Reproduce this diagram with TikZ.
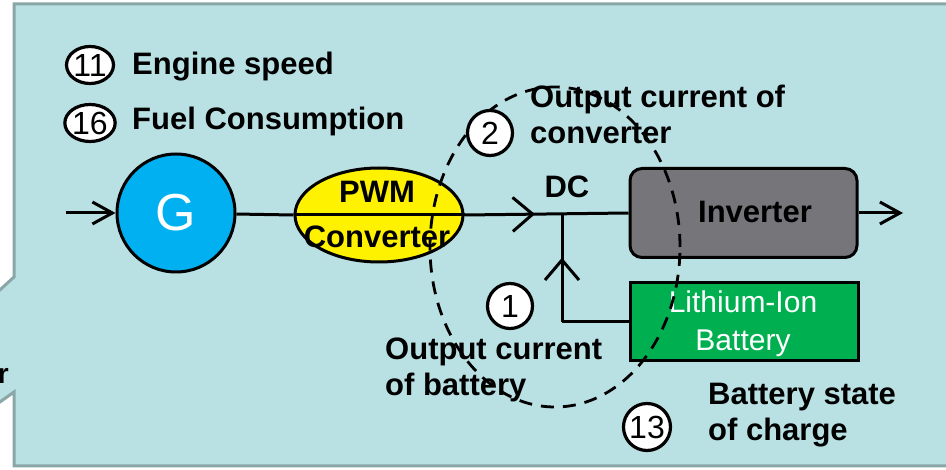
\documentclass[tikz,border=0pt]{standalone}
\usepackage{fontspec}
\setmainfont{Liberation Sans}
\usetikzlibrary{arrows.meta,shapes.geometric,decorations.markings}
\definecolor{bg}{RGB}{185,224,227}
\definecolor{bord}{RGB}{138,166,166}
\definecolor{gblue}{RGB}{0,176,240}
\definecolor{invgray}{RGB}{118,118,122}
\definecolor{batgreen}{RGB}{0,176,80}
\newcommand\bigfont{\fontsize{31}{36}\selectfont}
\newcommand\numfont{\fontsize{32}{36}\selectfont}
\tikzset{
  lbl/.style={font=\bigfont\bfseries, inner sep=0pt, align=left},
  numc/.style={circle, draw, fill=white, line width=3.2pt, minimum size=45pt, inner sep=0pt, font=\numfont},
  nume/.style={ellipse, draw, fill=white, line width=3.2pt, minimum width=46pt, minimum height=37pt, inner sep=0pt, font=\numfont},
  conn/.style={line width=3pt},
  endarrow/.style={-{Straight Barb[length=20pt,width=22pt]}},
  midarrow/.style={postaction={decorate}, decoration={markings, mark=at position #1 with {\arrow{Straight Barb[length=20pt,width=34pt]}}}},
  loopline/.style={line width=2.8pt, dash pattern=on 13pt off 9pt},
}
\begin{document}
\begin{tikzpicture}[x=1pt,y=-1pt]
\clip (0,0) rectangle (946,470);
% panel
\fill[bg] (14,4) -- (960,4) -- (960,466) -- (14,466) -- (14,392) -- (-10,409) -- (-10,299) -- (14,277) -- cycle;
\draw[bord, line width=3pt] (14,4) -- (960,4) -- (960,466) -- (14,466) -- (14,392) -- (-10,409) -- (-10,299) -- (14,277) -- cycle;
\node[font=\fontsize{28}{32}\selectfont\bfseries, anchor=east, inner sep=0pt] (cut) at (9,376) {r};

% legend
\node[nume] (n11) at (90,65) {11};
\node[lbl, anchor=west] (t11) at (132,67) {Engine speed};
\node[nume] (n16) at (90,123) {16};
\node[lbl, anchor=west] (t16) at (132,121) {Fuel Consumption};

% main chain
\node[ellipse, draw, line width=3pt, fill=yellow, minimum width=168pt, minimum height=94pt, inner sep=0pt] (pwm) at (379,215) {};
\node[circle, draw, line width=3pt, fill=gblue, minimum size=118pt, inner sep=0pt, text=white, font=\fontsize{52}{52}\selectfont] (G) at (176,213) {G};
\node[rectangle, rounded corners=12pt, draw, line width=3pt, fill=invgray, minimum width=227pt, minimum height=89pt] (inv) at (743.5,213) {};
\node[rectangle, draw, line width=3pt, fill=batgreen, minimum width=228pt, minimum height=78pt] (bat) at (744,322) {};

\coordinate (in) at (66,213);
\coordinate (out) at (903,213);
\coordinate (j) at (562,213);
\coordinate (jb) at (562,322);

\draw[conn, endarrow] (in) -- (G);
\draw[conn] (G) -- (pwm.west);
\draw[conn] (pwm.west) -- (pwm.east);
\draw[conn, midarrow=0.43] (pwm.east) -- (inv.west);
\draw[conn] (bat.west) -- (jb);
\draw[conn, midarrow=0.59] (jb) -- (j);
\draw[conn, endarrow] (inv.east) -- (out);

% texts
\node[lbl, align=center, font=\fontsize{31}{45}\selectfont\bfseries] (pwmt) at (377,214) {PWM\\Converter};
\node[lbl] (dc) at (567,187) {DC};
\node[lbl] (invt) at (755,212) {Inverter};
\node[inner sep=0pt, align=center, text=white, font=\fontsize{30}{38}\selectfont] (batt) at (743,324) {Lithium-Ion\\Battery};
\node[lbl, anchor=west] (t2) at (530,114) {Output current of\\converter};
\node[lbl, anchor=west] (t1) at (385,370) {Output current\\of battery};
\node[lbl, anchor=west] (t13) at (708,415) {Battery state\\of charge};

% dashed loop
\node[ellipse, draw, loopline, minimum width=250pt, minimum height=320pt, inner sep=0pt] (loop) at (555,247) {};

% circled numbers
\node[numc] (n2) at (490,133) {2};
\node[numc] (n1) at (510,306) {1};
\node[numc, minimum size=47pt] (n13) at (647,427) {13};
\end{tikzpicture}
\end{document}
